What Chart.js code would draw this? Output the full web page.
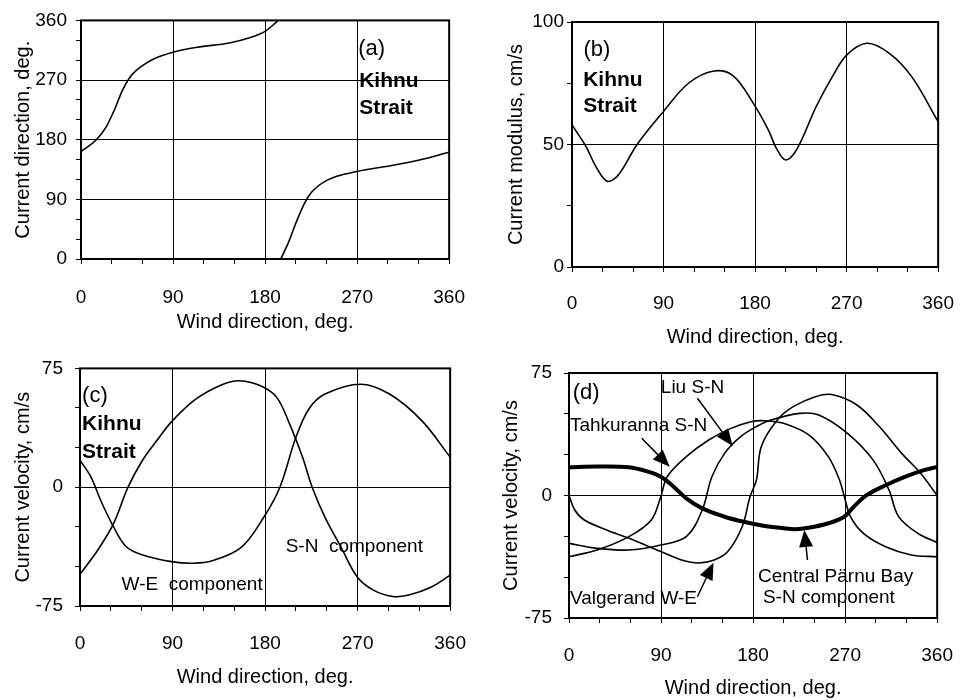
<!DOCTYPE html>
<html>
<head>
<meta charset="utf-8">
<script src="https://cdn.jsdelivr.net/npm/chart.js@4.4.1/dist/chart.umd.min.js"></script>
<style>
  body { margin: 0; background: #fff; }
  #wrap { position: relative; width: 974px; height: 700px; }
  canvas { position: absolute; }
</style>
</head>
<body>
<div id="wrap">
  <canvas id="chartA" width="487" height="345" style="left:0;top:0"></canvas>
  <canvas id="chartB" width="487" height="355" style="left:487px;top:0"></canvas>
  <canvas id="chartC" width="487" height="355" style="left:0;top:345px"></canvas>
  <canvas id="chartD" width="487" height="355" style="left:487px;top:345px"></canvas>
</div>
<script>
// (a) current direction, two branches (wraps at 360)
var aX1 = [0, 15, 24.5, 32.4, 40.4, 48.3, 59.5, 72, 90, 113.5, 145, 164, 180, 193];
var aY1 = [162, 180, 199, 224, 254, 275, 291, 302.5, 312, 319.5, 326, 333.5, 343.5, 360];
var aX2 = [195.3, 202.6, 210.6, 218.5, 225, 240.8, 270, 304, 330, 360];
var aY2 = [0, 24, 56, 84, 100, 119, 132, 141, 149, 161];

// (b) current modulus
var bX = [0, 14, 23.5, 34.5, 45.5, 64, 90, 114.5, 139.5, 158.5, 178, 193, 201, 210, 221, 240, 256, 270, 290, 312, 334, 360];
var bY = [58, 49, 41, 35, 37.5, 50, 63.5, 75, 80, 78, 67, 56, 48.4, 43.7, 48, 65.4, 77.7, 86.5, 91.3, 87.2, 77.7, 59.3];

// (c) Kihnu Strait components
var cX1 = [0, 10.6, 20, 32.6, 45, 60.8, 89, 110, 128.6, 156.8, 178.7, 194.4, 210, 222.6, 238.3, 272.8, 301, 332.4, 360];
var cWE = [17, 6.5, -8.2, -25, -37.6, -42.8, -47, -48, -46.5, -38, -19, 0, 31.5, 49.4, 58.8, 65, 58.8, 42, 19];
var cX2 = [0, 17, 32.6, 46.7, 60.8, 74.9, 90, 112.9, 138, 155.2, 175.6, 191.3, 203.8, 216.4, 225.8, 238.3, 254, 269.7, 285.3, 304.2, 319.9, 341.8, 360];
var cSN = [-55, -40, -23, 0, 17, 29.6, 42, 55.7, 64.7, 67.2, 64, 56.7, 40, 19, 0, -19, -38, -56.7, -65, -69, -68, -63, -55.5];

// (d) several stations
var dXc = [0, 27.4, 58.6, 77.3, 89.8, 102.3, 114.7, 130.3, 152.2, 170.9, 190, 209.8, 221, 234, 253.6, 269.2, 278.5, 291, 309.7, 328.4, 347.1, 360];
var dCentral = [17.3, 17.7, 17.3, 14.6, 11.5, 5.4, -1.8, -7.9, -13, -16.1, -18.5, -20, -20.6, -19.8, -17, -13, -6.9, 0.2, 6.3, 11.4, 15.5, 17.5];
var dXt = [0, 27.4, 58.6, 80.5, 89.8, 96, 114.7, 136.6, 158.4, 178, 192, 209.8, 234.8, 253.6, 264.5, 269.2, 275.4, 287.9, 309.7, 334.6, 360];
var dTahk = [-37.5, -33.4, -25.2, -15, -0.7, 11.5, 23.8, 34, 41.1, 45.2, 45.8, 44.2, 37, 23.8, 9.5, -0.7, -13.1, -23.2, -31.4, -36.4, -37.5];
var dXl = [0, 27.4, 58.6, 89.8, 114.7, 130.3, 139.7, 152.2, 167.8, 183.3, 197.4, 225.5, 244.2, 272.3, 297.3, 312.9, 322.3, 341, 360];
var dLiu = [-29.3, -32.3, -33.4, -30.3, -25.2, -8.9, 11.5, 25.8, 36, 42.2, 46.2, 50.3, 49.3, 38.1, 21.8, 3.4, -12.9, -23.1, -28.8];
var dXv = [0, 5.6, 15, 36.8, 58.6, 89.8, 110, 127, 142, 155.3, 169.4, 177, 183.3, 188, 203.6, 219.2, 241, 257, 281.6, 303.4, 325.3, 344, 360];
var dValg = [0, -8.9, -15, -21.1, -26.2, -34.3, -39.5, -41.3, -39.5, -34.3, -19, -0.7, 9.5, 29.9, 46.2, 54.4, 60.5, 61.8, 55.4, 42.2, 25.8, 13.5, 0];

Chart.defaults.font.family = '"Liberation Sans", Arial, sans-serif';
Chart.defaults.color = '#000';

function pts(xs, ys) {
  return xs.map(function (x, i) { return { x: x, y: ys[i] }; });
}

// mono=true keeps the monotone spline (direction branches), otherwise a smooth bezier
function line(xs, ys, w, mono) {
  var ds = {
    data: pts(xs, ys),
    borderColor: '#000',
    borderWidth: w || 1.6,
    pointRadius: 0,
    fill: false
  };
  if (mono) ds.cubicInterpolationMode = 'monotone';
  else ds.tension = 0.35;
  return ds;
}

var framePlugin = {
  id: 'frame',
  afterDatasetsDraw: function (chart) {
    var a = chart.chartArea, c = chart.ctx;
    c.save();
    c.strokeStyle = '#000';
    c.lineWidth = 2;
    c.strokeRect(a.left, a.top, a.right - a.left, a.bottom - a.top);
    c.restore();
  }
};

function notesPlugin(notes, arrows) {
  return {
    id: 'notes',
    afterDraw: function (chart) {
      var c = chart.ctx, sx = chart.scales.x, sy = chart.scales.y;
      c.save();
      c.fillStyle = '#000';
      c.strokeStyle = '#000';
      c.textBaseline = 'middle';
      c.textAlign = 'left';
      notes.forEach(function (n) {
        c.font = (n.bold ? 'bold ' : '') + (n.size || 19) + 'px "Liberation Sans", Arial, sans-serif';
        c.fillText(n.text, sx.getPixelForValue(n.x), sy.getPixelForValue(n.y));
      });
      (arrows || []).forEach(function (a) {
        var x1 = sx.getPixelForValue(a[0]), y1 = sy.getPixelForValue(a[1]);
        var x2 = sx.getPixelForValue(a[2]), y2 = sy.getPixelForValue(a[3]);
        var ang = Math.atan2(y2 - y1, x2 - x1);
        var hl = 17, hw = 7;
        var bx = x2 - hl * Math.cos(ang), by = y2 - hl * Math.sin(ang);
        c.lineWidth = 1.5;
        c.beginPath();
        c.moveTo(x1, y1);
        c.lineTo(bx, by);
        c.stroke();
        c.beginPath();
        c.moveTo(x2, y2);
        c.lineTo(bx + hw * Math.sin(ang), by - hw * Math.cos(ang));
        c.lineTo(bx - hw * Math.sin(ang), by + hw * Math.cos(ang));
        c.closePath();
        c.fill();
      });
      c.restore();
    }
  };
}

function makePanel(id, p) {
  var tickFont = { size: 19 };
  var titleFont = { size: 20 };
  return new Chart(document.getElementById(id), {
    type: 'line',
    data: { datasets: p.datasets },
    options: {
      responsive: false,
      animation: false,
      devicePixelRatio: 1,
      layout: { padding: p.pad },
      plugins: { legend: { display: false }, tooltip: { enabled: false } },
      scales: {
        x: {
          type: 'linear', min: 0, max: 360,
          afterFit: function (s) { s.height = p.xh; },
          border: { display: false },
          grid: {
            color: function (ctx) { return ctx.tick.value % 90 === 0 ? '#000' : 'rgba(0,0,0,0)'; },
            tickColor: '#000', tickLength: 5, lineWidth: 1
          },
          ticks: {
            stepSize: 30, autoSkip: false, maxRotation: 0, minRotation: 0,
            padding: p.xtp, font: tickFont, color: '#000',
            callback: function (v) { return v % 90 === 0 ? String(v) : ''; }
          },
          title: { display: true, text: 'Wind direction, deg.', font: titleFont, color: '#000', padding: { top: 0, bottom: p.xtt } }
        },
        y: {
          min: p.ymin, max: p.ymax,
          afterFit: function (s) { s.width = p.yw; },
          border: { display: false },
          grid: {
            color: function (ctx) { return ctx.tick.value % p.major === 0 ? '#000' : 'rgba(0,0,0,0)'; },
            tickColor: '#000', tickLength: 5, lineWidth: 1
          },
          ticks: {
            stepSize: p.step, autoSkip: false, padding: p.ytp, font: tickFont, color: '#000',
            callback: function (v) { return v % p.major === 0 ? String(v) : ''; }
          },
          title: { display: true, text: p.ytitle, font: titleFont, color: '#000', padding: { top: p.ytt, bottom: 0 } }
        }
      }
    },
    plugins: [framePlugin, notesPlugin(p.notes, p.arrows)]
  });
}

makePanel('chartA', {
  datasets: [line(aX1, aY1, 1.6, true), line(aX2, aY2, 1.6, true)],
  pad: { top: 19, right: 29, left: 0, bottom: 0 },
  xh: 86, xtp: 22, xtt: 11, yw: 81, ytp: 9, ytt: 11,
  ymin: 0, ymax: 360, step: 30, major: 90,
  ytitle: 'Current direction, deg.',
  notes: [
    { text: '(a)', x: 271, y: 317, size: 22 },
    { text: 'Kihnu', x: 272, y: 268.5, size: 21, bold: true },
    { text: 'Strait', x: 272, y: 228, size: 21, bold: true }
  ]
});

makePanel('chartB', {
  datasets: [line(bX, bY)],
  pad: { top: 22, right: 20, left: 0, bottom: 0 },
  xh: 88, xtp: 20, xtt: 6, yw: 85, ytp: 3, ytt: 17,
  ymin: 0, ymax: 100, step: 25, major: 50,
  ytitle: 'Current modulus, cm/s',
  notes: [
    { text: '(b)', x: 11.3, y: 88.6, size: 22 },
    { text: 'Kihnu', x: 11, y: 76.3, size: 21, bold: true },
    { text: 'Strait', x: 11, y: 65.5, size: 21, bold: true }
  ]
});

makePanel('chartC', {
  datasets: [line(cX1, cWE), line(cX2, cSN)],
  pad: { top: 23, right: 24, left: 0, bottom: 0 },
  xh: 94, xtp: 21, xtt: 11, yw: 80, ytp: 12, ytt: 11,
  ymin: -75, ymax: 75, step: 25, major: 75,
  ytitle: 'Current velocity, cm/s',
  notes: [
    { text: '(c)', x: 2, y: 57.3, size: 22 },
    { text: 'Kihnu', x: 2, y: 40, size: 21, bold: true },
    { text: 'Strait', x: 2, y: 22.4, size: 21, bold: true },
    { text: 'W-E  component', x: 40.4, y: -61.7 },
    { text: 'S-N  component', x: 200, y: -37.5 }
  ]
});

makePanel('chartD', {
  datasets: [line(dXt, dTahk), line(dXl, dLiu), line(dXv, dValg), line(dXc, dCentral, 4)],
  pad: { top: 28, right: 20, left: 0, bottom: 0 },
  xh: 82, xtp: 21, xtt: 0, yw: 82, ytp: 12, ytt: 12,
  ymin: -75, ymax: 75, step: 25, major: 75,
  ytitle: 'Current velocity, cm/s',
  notes: [
    { text: '(d)', x: 3.7, y: 62.8, size: 22 },
    { text: 'Liu S-N', x: 89.8, y: 65.8 },
    { text: 'Tahkuranna S-N', x: 0.9, y: 42.6 },
    { text: 'Valgerand W-E', x: 0.9, y: -63.4 },
    { text: 'Central Pärnu Bay', x: 184.9, y: -49.7 },
    { text: 'S-N component', x: 189.6, y: -62.5 }
  ],
  arrows: [
    [125.6, 59.5, 160, 30.3],
    [71.1, 35, 98.5, 17.6],
    [125.6, -62, 141.3, -41.1],
    [233.2, -39.5, 230.1, -21.1]
  ]
});
</script>
</body>
</html>
